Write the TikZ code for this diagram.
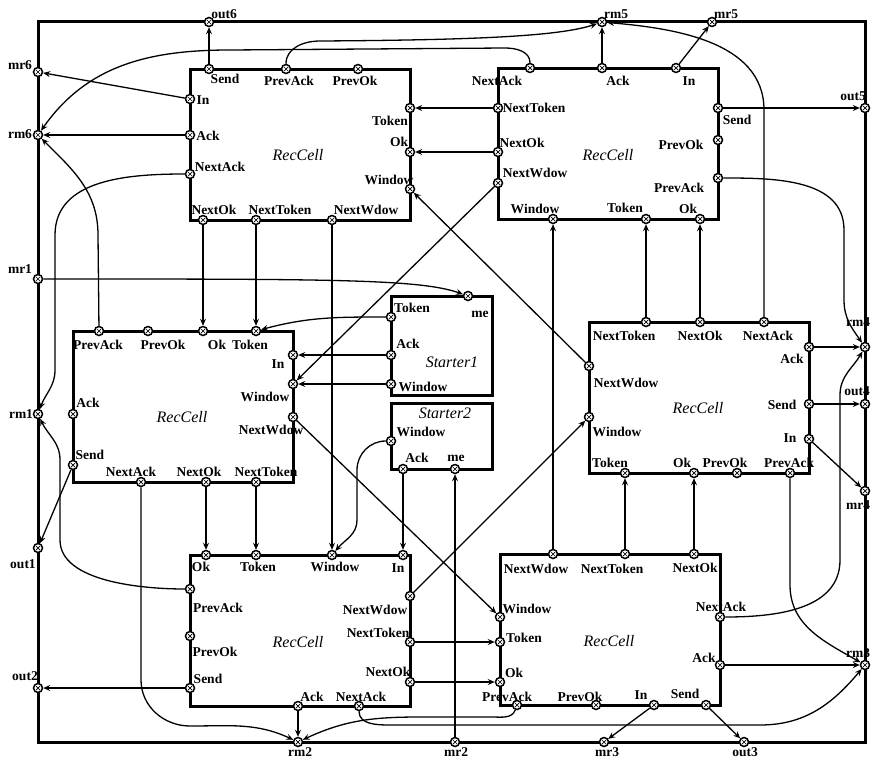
\documentclass[tikz,border=0pt]{standalone}
\usepackage{fontspec}
\setmainfont{Liberation Serif}
\usetikzlibrary{arrows.meta}

\begin{document}
\begin{tikzpicture}[x=1pt,y=-1pt,
  frame/.style={draw,line width=3pt,minimum width=827pt,minimum height=720pt,inner sep=0pt},
  cell/.style={draw,line width=3pt,minimum width=220pt,minimum height=151pt,inner sep=0pt},
  starter/.style={draw,line width=3pt,minimum width=101pt,inner sep=0pt},
  port/.style={circle,draw,line width=1.5pt,fill=white,minimum size=9pt,inner sep=0pt,
    path picture={\draw[line width=0.7pt]
      ([shift={(-2pt,-2pt)}]path picture bounding box.center) -- ([shift={(2pt,2pt)}]path picture bounding box.center)
      ([shift={(-2pt,2pt)}]path picture bounding box.center) -- ([shift={(2pt,-2pt)}]path picture bounding box.center);}},
  lbl/.style={inner sep=0pt,font=\bfseries\fontsize{13.5}{14}\selectfont},
  ttl/.style={inner sep=0pt,font=\itshape\fontsize{16}{16}\selectfont},
  a/.style={-{Stealth[length=7pt,width=6pt,inset=2.5pt]},line width=1.3pt}
]
  \useasboundingbox (0,0) rectangle (874,760);
  \node[frame] (sys) at (451.5,382) {};
  \foreach \nm/\x/\y in {tl/300/144.5,tr/608/143.5,l/183/406.5,r/699/397.5,bl/300/630.5,br/610/629.5}
    {\node[cell] (\nm) at (\x,\y) {};}
  \node[starter,minimum height=99pt] (s1) at (441.5,345.5) {};
  \node[starter,minimum height=66pt] (s2) at (441.5,436) {};
  \foreach \nm/\x/\y in {tl/298/155,tr/608/155,l/182/417,r/698/408,bl/298/642,br/609/641}
    {\node[ttl] (\nm-ttl) at (\x,\y) {RecCell};}
  \node[ttl] (s1-ttl) at (452,362) {Starter1};
  \node[ttl] (s2-ttl) at (445,413) {Starter2};
  \foreach \nm/\x/\y/\lx/\ly/\txt in {
    out6/209/22/224/14/out6, rm5/602/22/616/14/rm5, mr5/712/22/726/14/mr5,
    out5/865/108/853/96/out5, rm4/865/347/858/322/rm4, out4/865/404/857/391/out4,
    mr4/865/491/858/505/mr4, rm3/865/665/858/653/rm3, out3/744/742/745/752/out3,
    mr3/604/742/607/752/mr3, mr2/455/742/456/752/mr2, rm2/298/742/300/752/rm2,
    out2/38/688/25/676/out2, out1/38/548/23/564/out1, rm1/38/414/21/414/rm1,
    mr1/38/279/20/269/mr1, rm6/38/135/20/134/rm6, mr6/38/72/20/65/mr6,
    tls/209/69/225/79/Send, tlpa/286/69/289/81/PrevAck, tlpo/358/69/355/81/PrevOk,
    tli/190/99/203/100/In, tla/190/135/208/136/Ack, tlna/190/174/220/167/NextAck,
    tlno/203/220/214/210/NextOk, tlnt/256/220/280/210/NextToken, tlnw/332/220/366/210/NextWdow,
    tlt/410/108/390/121/Token, tlo/410/152/399/142/Ok, tlw/410/189/389/180/Window,
    trna/530/68/497/81/NextAck, tra/602/68/618/81/Ack, tri/676/68/689/81/In,
    trnt/498/108/534/108/NextToken, trno/498/152/522/143/NextOk, trnw/498/183/535/173/NextWdow,
    trs/718/108/737/120/Send, trpo/718/140/681/145/PrevOk, trpa/718/178/679/188/PrevAck,
    trw/553/219/535/209/Window, trt/646/219/625/208/Token, tro/700/219/688/209/Ok,
    lpa/99/331/98/345/PrevAck, lpo/148/331/163/345/PrevOk, lo/203/331/217/345/Ok,
    lt/256/331/250/345/Token, li/293/355/278/364/In, lw/293/384/265/397/Window,
    lnw/293/417/271/430/NextWdow, la/73/414/88/403/Ack, ls/73/465/90/455/Send,
    lna/141/482/131/472/NextAck, lno/206/482/199/472/NextOk, lnt/256/482/266/472/NextToken,
    s1me/468/296/480/314/me, s1t/391/317/412/308/Token, s1a/391/355/408/344/Ack,
    s1w/391/384/423/387/Window,
    s2w/391/441/421/432/Window, s2a/403/469/417/458/Ack, s2me/455/469/456/458/me,
    rnt/646/322/624/336/NextToken, rno/700/322/700/336/NextOk, rna/764/322/768/336/NextAck,
    ra/809/347/792/359/Ack, rs/809/404/782/405/Send, ri/809/439/790/438/In,
    rnw/589/366/626/383/NextWdow, rw/589/417/617/432/Window, rt/625/473/610/463/Token,
    ro/694/473/682/463/Ok, rpo/737/473/725/463/PrevOk, rpa/790/473/789/463/PrevAck,
    blo/206/555/201/567/Ok, blt/256/555/258/567/Token, blw/332/555/335/567/Window,
    bli/403/555/398/568/In, blpa/190/589/218/608/PrevAck, blpo/190/636/215/652/PrevOk,
    bls/190/688/208/679/Send, blnw/410/596/375/610/NextWdow, blnt/410/642/378/633/NextToken,
    blno/410/682/388/672/NextOk, bla/298/706/312/697/Ack, blna/359/706/361/697/NextAck,
    brnw/553/554/536/569/NextWdow, brnt/625/554/612/569/NextToken, brno/694/554/695/568/NextOk,
    brw/500/617/527/609/Window, brt/500/642/524/638/Token, bro/500/682/514/673/Ok,
    brpa/517/705/507/697/PrevAck, brpo/596/705/580/697/PrevOk, bri/654/705/641/695/In,
    brs/706/705/685/694/Send, brna/720/617/721/607/NextAck, bra/720/665/704/658/Ack}
    {\node[port] (\nm) at (\x,\y) {};
     \node[lbl] (\nm-t) at (\lx,\ly) {\txt};}
  \foreach \s/\t in {tls/out6,tli/mr6,tla/rm6,tra/rm5,tri/mr5,trs/out5,ra/rm4,rs/out4,ri/mr4,
    bra/rm3,bri/mr3,brs/out3,bla/rm2,bls/out2,ls/out1,mr2/s2me,
    trnt/tlt,trno/tlo,trnw/lw,tlno/lo,tlnt/lt,tlnw/blw,lno/blo,lnt/blt,lnw/brw,
    blnt/brt,blno/bro,blnw/rw,brnw/trw,brnt/rt,brno/ro,rnt/trt,rno/tro,rnw/tlw,
    s1a/li,s1w/lw,s2a/bli}
    {\draw[a] (\s) -- (\t);}
  \draw[a] (s1t) to[out=180,in=15] (lt);
  \draw[a] (mr1) .. controls (330,279) and (420,279) .. (s1me);
  \draw[a] (s2w) to[out=180,in=90] (357,470) -- (357,520) to[out=-90,in=50] (blw);
  \draw[a] (tlna) to[out=180,in=90] (55,235) -- (55,370) to[out=-90,in=70] (rm1);
  \draw[a] (lpa) -- (98,235) to[out=90,in=-45] (rm6);
  \draw[a] (blpa) to[out=180,in=-90,looseness=0.8] (60,540) -- (60,460) to[out=90,in=-65] (rm1);
  \draw[a] (lna) -- (141,680) to[out=-90,in=180] (190,726) to[out=0,in=155] (rm2);
  \draw[a] (trna) to[out=90,in=0] (505,48) -- (230,50) to[out=180,in=55] (rm6);
  \draw[a] (tlpa) to[out=90,in=180] (320,41) .. controls (480,40) and (560,36) .. (rm5);
  \draw[a] (rna) -- (764,110) .. controls (764,40) and (670,28) .. (rm5);
  \draw[a] (trpa) to[out=0,in=90] (844,230) -- (844,300) to[out=-90,in=125] (rm4);
  \draw[a] (brna) to[out=0,in=-90] (840,560) -- (840,395) to[out=90,in=-120] (rm4);
  \draw[a] (rpa) -- (790,585) to[out=-90,in=150] (rm3);
  \draw[a] (blna) to[out=-90,in=180] (390,725) -- (760,725) to[out=0,in=-130] (rm3);
  \draw[a] (brpa) to[out=-110,in=0] (492,717) -- (420,717) to[out=180,in=25] (rm2);
\end{tikzpicture}
\end{document}
